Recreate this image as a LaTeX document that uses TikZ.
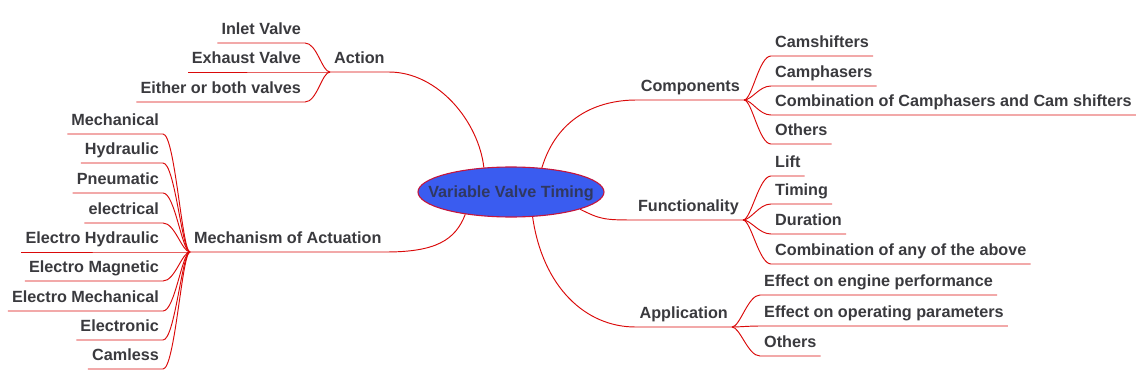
\documentclass[tikz,border=0pt]{standalone}
\usepackage{fontspec}
\setmainfont{Liberation Sans}
\usepackage{xcolor}
\usepackage{tikz}
\usetikzlibrary{shapes,positioning,calc}
\definecolor{linkred}{RGB}{218,10,10}
\definecolor{labelgray}{RGB}{58,58,62}
\definecolor{hubblue}{RGB}{58,92,240}
\definecolor{hubrim}{RGB}{196,22,62}
\definecolor{hubtext}{RGB}{48,56,96}

\begin{document}
\begin{tikzpicture}[x=1pt,y=-1pt,every node/.style={font=\fontsize{16.2}{19}\selectfont\bfseries,text=labelgray,inner xsep=4pt,inner ysep=3pt,text height=12pt,text depth=5pt},link/.style={draw=linkred,line width=0.95pt}]
\useasboundingbox (0,0) rectangle (1144,388);
\node[ellipse,draw=hubrim,line width=1.1pt,fill=hubblue,text=hubtext,minimum width=186pt,minimum height=50pt,inner sep=0pt,text height=11.5pt,text depth=0pt](vvt) at (511,192){\makebox[0pt][c]{Variable Valve Timing}};
% main branches
\node[anchor=south west](act) at (330,72){Action};
\node[anchor=south west](mech) at (190,252){Mechanism of Actuation};
\node[anchor=south east](comp) at (744,100){Components};
\node[anchor=south east](func) at (743,220){Functionality};
\node[anchor=south east](appl) at (732,327){Application};
% action
\node[anchor=south east](inlet) at (305,43){Inlet Valve};
\node[anchor=south east](exhaust) at (305,72){Exhaust Valve};
\node[anchor=south east](either) at (305,102){Either or both valves};
% mechanism of actuation
\node[anchor=south east](mechanical) at (163,134){Mechanical};
\node[anchor=south east](hydraulic) at (163,163){Hydraulic};
\node[anchor=south east](pneumatic) at (163,193){Pneumatic};
\node[anchor=south east](electrical) at (163,223){electrical};
\node[anchor=south east](elhydr) at (163,252){Electro Hydraulic};
\node[anchor=south east](elmagn) at (163,281){Electro Magnetic};
\node[anchor=south east](elmech) at (163,311){Electro Mechanical};
\node[anchor=south east](electronic) at (163,340){Electronic};
\node[anchor=south east](camless) at (163,369){Camless};
% components
\node[anchor=south west](camshift) at (771,56){Camshifters};
\node[anchor=south west](camphase) at (771,86){Camphasers};
\node[anchor=south west](combcam) at (771,115){Combination of Camphasers and Cam shifters};
\node[anchor=south west](compoth) at (771,144){Others};
% functionality
\node[anchor=south west](lift) at (771,176){Lift};
\node[anchor=south west](timing) at (771,204){Timing};
\node[anchor=south west](duration) at (771,234){Duration};
\node[anchor=south west](combany) at (771,264){Combination of any of the above};
% application
\node[anchor=south west](engperf) at (760,295){Effect on engine performance};
\node[anchor=south west](oppar) at (760,326){Effect on operating parameters};
\node[anchor=south west](apploth) at (760,356){Others};
% connectors from the hub
\draw[link](vvt.138) .. controls +(-5,-45) and +(50,0) .. (act.south east)--(act.south west);
\draw[link](vvt.206) .. controls +(-10,26) and +(50,0) .. (mech.south east)--(mech.south west);
\draw[link](vvt.38) .. controls +(15,-50) and +(-40,0) .. (comp.south west)--(comp.south east);
\draw[link](vvt.346) .. controls +(20,10) and +(-30,0) .. (func.south west)--(func.south east);
\draw[link](vvt.311) .. controls +(10,70) and +(-50,0) .. (appl.south west)--(appl.south east);
% leaves
\draw[link](act.south west) .. controls +(-8,0) and +(12,0) .. (inlet.south east)--(inlet.south west);
\draw[link](act.south west) .. controls +(-8,0) and +(12,0) .. (exhaust.south east)--(exhaust.south west);
\draw[link](act.south west) .. controls +(-8,0) and +(12,0) .. (either.south east)--(either.south west);
\draw[link](mech.south west) .. controls +(-8,0) and +(12,0) .. (mechanical.south east)--(mechanical.south west);
\draw[link](mech.south west) .. controls +(-8,0) and +(12,0) .. (hydraulic.south east)--(hydraulic.south west);
\draw[link](mech.south west) .. controls +(-8,0) and +(12,0) .. (pneumatic.south east)--(pneumatic.south west);
\draw[link](mech.south west) .. controls +(-8,0) and +(12,0) .. (electrical.south east)--(electrical.south west);
\draw[link](mech.south west) .. controls +(-8,0) and +(12,0) .. (elhydr.south east)--(elhydr.south west);
\draw[link](mech.south west) .. controls +(-8,0) and +(12,0) .. (elmagn.south east)--(elmagn.south west);
\draw[link](mech.south west) .. controls +(-8,0) and +(12,0) .. (elmech.south east)--(elmech.south west);
\draw[link](mech.south west) .. controls +(-8,0) and +(12,0) .. (electronic.south east)--(electronic.south west);
\draw[link](mech.south west) .. controls +(-8,0) and +(12,0) .. (camless.south east)--(camless.south west);
\draw[link](comp.south east) .. controls +(8,0) and +(-12,0) .. (camshift.south west)--(camshift.south east);
\draw[link](comp.south east) .. controls +(8,0) and +(-12,0) .. (camphase.south west)--(camphase.south east);
\draw[link](comp.south east) .. controls +(8,0) and +(-12,0) .. (combcam.south west)--(combcam.south east);
\draw[link](comp.south east) .. controls +(8,0) and +(-12,0) .. (compoth.south west)--(compoth.south east);
\draw[link](func.south east) .. controls +(8,0) and +(-12,0) .. (lift.south west)--(lift.south east);
\draw[link](func.south east) .. controls +(8,0) and +(-12,0) .. (timing.south west)--(timing.south east);
\draw[link](func.south east) .. controls +(8,0) and +(-12,0) .. (duration.south west)--(duration.south east);
\draw[link](func.south east) .. controls +(8,0) and +(-12,0) .. (combany.south west)--(combany.south east);
\draw[link](appl.south east) .. controls +(8,0) and +(-12,0) .. (engperf.south west)--(engperf.south east);
\draw[link](appl.south east) .. controls +(8,0) and +(-12,0) .. (oppar.south west)--(oppar.south east);
\draw[link](appl.south east) .. controls +(8,0) and +(-12,0) .. (apploth.south west)--(apploth.south east);
\end{tikzpicture}
\end{document}
